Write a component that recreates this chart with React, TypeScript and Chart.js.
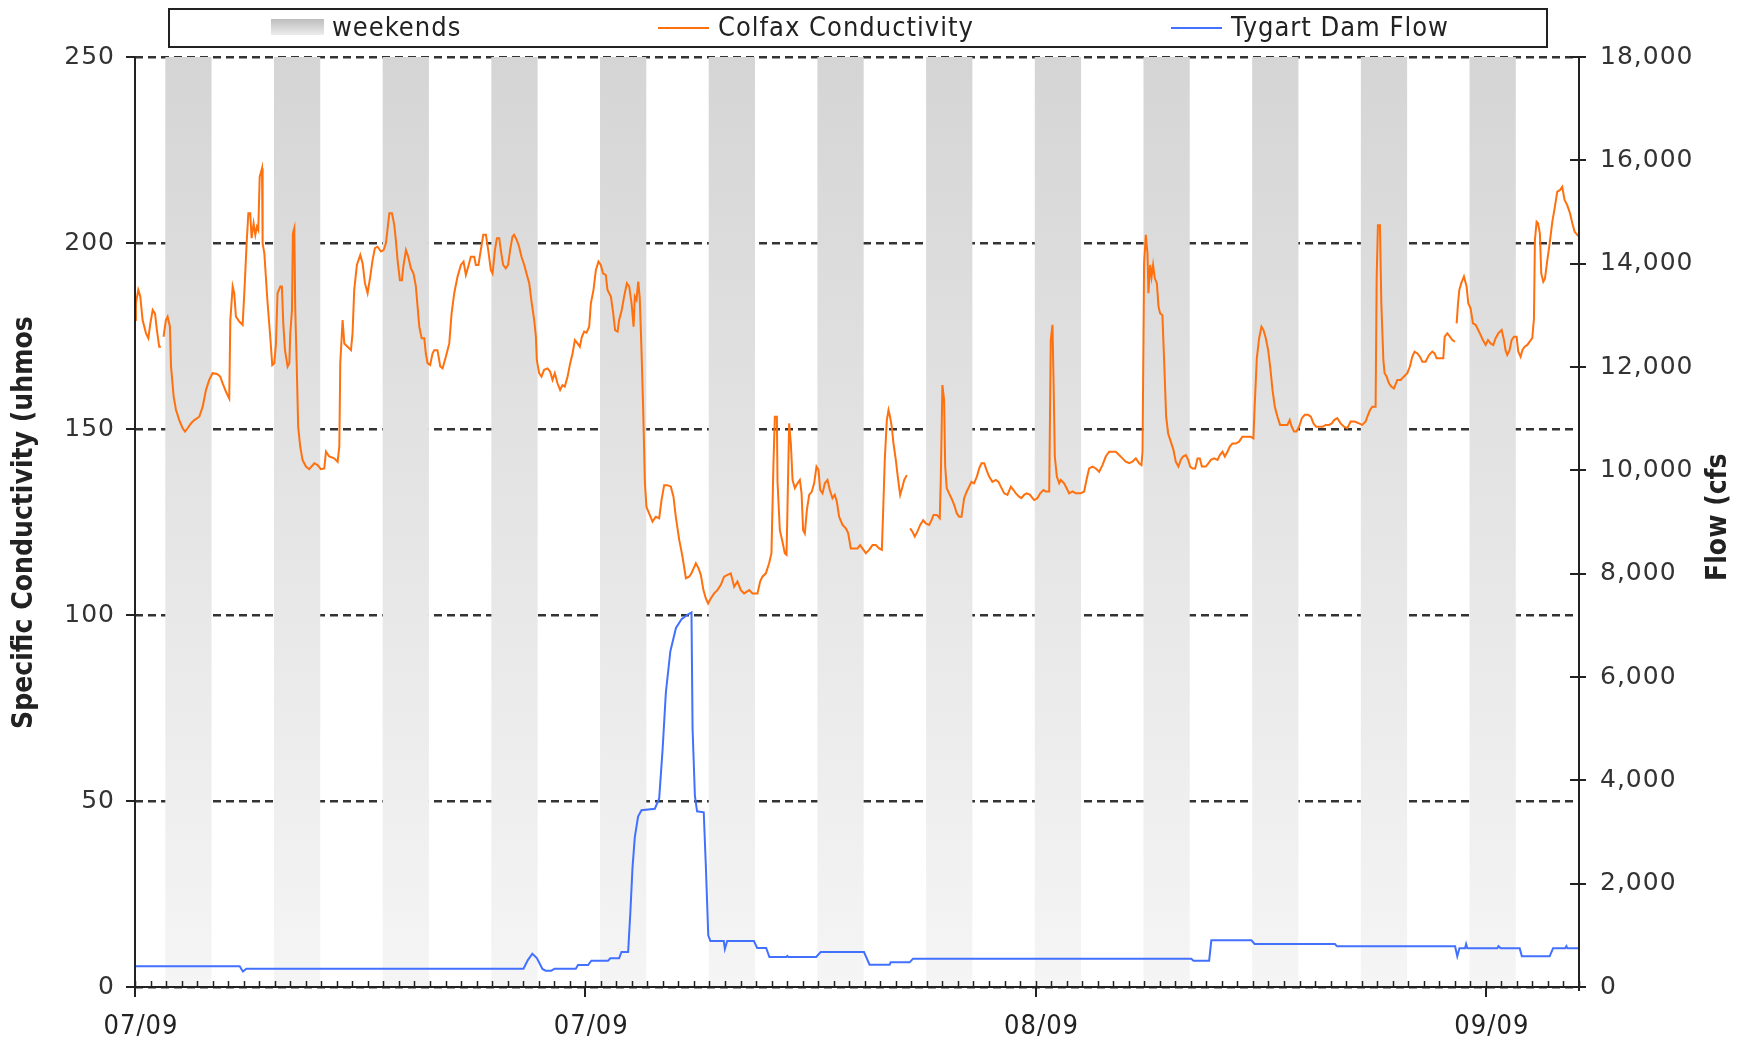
import React, { useEffect, useRef } from "react";
import { Chart, registerables } from "chart.js";

Chart.register(...registerables);

// Day offsets (from 1 Jul 2009) where the date axis is labelled, and their labels (MM/YY)
const xTickDays = [0, 29, 58, 87];
const xTickLabels = ["07/09", "07/09", "08/09", "09/09"];
const dayCount = 93;

// Weekend shading, as day offsets
const weekendStarts = [1.95, 8.95, 15.95, 22.95, 29.95, 36.95, 43.95, 50.95, 57.95, 64.95, 71.95, 78.95, 85.95];
const weekendEnds = [4.93, 11.93, 18.93, 25.93, 32.93, 39.93, 46.93, 53.93, 60.93, 67.93, 74.93, 81.93, 88.93];

// Colfax specific conductivity readings: [day offset, uhmos/cm] (null = no data)
const colfaxReadings: [number, number | null][] = [
  [0, 179.3], [0.06, 183.8], [0.21, 187.4], [0.34, 185.6], [0.49, 179.3], [0.71, 175.7], [0.86, 174.4], [0.99, 178.4], [1.14, 182.0], [1.29, 181.0],
  [1.41, 176.6], [1.56, 172.1], [1.67, 172.1], [1.75, null], [1.84, 174.8], [1.99, 179.3], [2.1, 180.2], [2.25, 177.5], [2.32, 166.8], [2.49, 158.7],
  [2.64, 155.1], [2.85, 152.4], [3.07, 150.2], [3.22, 149.3], [3.39, 150.2], [3.6, 151.5], [3.82, 152.4], [4.14, 153.3], [4.36, 156.0], [4.57, 160.5],
  [4.78, 163.2], [5.0, 165.0], [5.28, 164.8], [5.49, 164.1], [5.64, 162.3], [5.86, 160.0], [6.07, 158.2], [6.14, 179.3], [6.29, 188.3], [6.39, 186.5],
  [6.5, 180.2], [6.72, 178.9], [6.93, 178.0], [7.04, 186.5], [7.19, 199.9], [7.3, 208.0], [7.42, 208.0], [7.51, 201.3], [7.64, 205.3], [7.75, 202.2],
  [7.85, 204.4], [7.94, 203.5], [8.03, 217.8], [8.18, 220.1], [8.22, 199.9], [8.33, 197.2], [8.54, 183.8], [8.71, 174.8], [8.84, 167.2], [8.97, 167.7],
  [9.08, 173.0], [9.18, 186.5], [9.36, 188.3], [9.46, 188.3], [9.55, 178.4], [9.66, 171.2], [9.83, 166.8], [9.94, 167.7], [10.0, 175.7], [10.11, 182.0],
  [10.17, 202.6], [10.26, 204.0], [10.32, 182.4], [10.41, 168.1], [10.51, 150.6], [10.64, 145.3], [10.79, 141.7], [11.01, 139.9], [11.22, 139.2], [11.55, 140.8],
  [11.76, 140.3], [11.97, 139.2], [12.19, 139.4], [12.3, 143.9], [12.51, 142.6], [12.83, 142.1], [13.05, 141.2], [13.16, 145.3], [13.22, 167.7], [13.37, 179.3],
  [13.48, 173.0], [13.69, 172.1], [13.91, 171.2], [14.01, 175.7], [14.12, 187.4], [14.29, 194.1], [14.51, 196.8], [14.66, 194.5], [14.81, 189.2], [14.98, 186.5],
  [15.15, 190.9], [15.3, 195.4], [15.45, 198.6], [15.62, 199.0], [15.84, 197.7], [16.01, 198.1], [16.16, 199.9], [16.27, 203.9], [16.38, 208.0], [16.55, 208.0],
  [16.7, 204.8], [16.8, 200.8], [16.91, 195.4], [17.06, 190.0], [17.19, 190.0], [17.28, 193.6], [17.45, 198.1], [17.6, 196.3], [17.77, 193.2], [17.94, 191.8],
  [18.09, 188.3], [18.2, 182.9], [18.31, 177.5], [18.46, 174.4], [18.63, 174.4], [18.73, 170.3], [18.84, 167.7], [19.01, 167.2], [19.16, 170.3],
  [19.27, 171.2], [19.48, 171.2], [19.66, 166.8], [19.81, 166.3], [20.02, 169.4], [20.24, 173.0], [20.39, 181.1], [20.56, 186.5], [20.77, 190.9], [20.99, 194.1],
  [21.16, 195.0], [21.31, 191.4], [21.46, 193.6], [21.63, 196.3], [21.85, 196.3], [21.95, 194.1], [22.12, 194.1], [22.27, 198.1], [22.43, 202.2], [22.6, 202.2],
  [22.75, 198.1], [22.92, 192.7], [23.03, 191.8], [23.18, 198.1], [23.31, 201.3], [23.46, 201.3], [23.56, 198.1], [23.71, 194.1], [23.88, 193.2], [24.03, 194.1],
  [24.16, 198.1], [24.31, 201.7], [24.42, 202.2], [24.59, 200.8], [24.74, 199.0], [24.89, 196.3], [25.07, 194.1], [25.24, 191.4], [25.39, 189.2], [25.54, 184.2],
  [25.71, 179.3], [25.82, 174.8], [25.88, 168.5], [26.03, 165.0], [26.18, 164.1], [26.35, 165.9], [26.57, 166.3], [26.74, 165.4], [26.89, 163.2], [27.04, 165.0],
  [27.21, 162.3], [27.38, 160.5], [27.53, 161.8], [27.68, 161.4], [27.86, 164.1], [28.03, 167.7], [28.18, 170.3], [28.33, 173.9], [28.5, 173.0], [28.65, 172.1],
  [28.78, 174.8], [28.93, 176.2], [29.08, 175.9], [29.25, 177.5], [29.36, 183.8], [29.53, 187.4], [29.68, 192.7], [29.85, 195.0], [30.0, 194.1], [30.15, 191.8],
  [30.32, 191.4], [30.43, 187.4], [30.65, 185.6], [30.8, 181.1], [30.92, 176.6], [31.08, 176.2], [31.18, 179.3], [31.35, 182.0], [31.5, 185.6], [31.68, 189.2],
  [31.83, 188.3], [31.98, 183.8], [32.11, 177.5], [32.19, 185.6], [32.3, 184.7], [32.41, 189.6], [32.51, 185.1], [32.62, 171.2], [32.73, 155.1], [32.84, 135.4],
  [32.94, 129.1], [33.11, 127.3], [33.33, 125.1], [33.54, 126.4], [33.76, 126.0], [33.91, 130.9], [34.08, 134.9], [34.29, 134.9], [34.51, 134.5], [34.68, 131.8],
  [34.83, 126.4], [35.05, 120.2], [35.26, 115.7], [35.48, 109.9], [35.69, 110.3], [35.84, 111.2], [36.12, 113.9], [36.29, 112.6], [36.44, 110.8], [36.61, 106.7],
  [36.76, 104.5], [36.91, 103.1], [37.09, 104.5], [37.3, 105.8], [37.51, 106.7], [37.73, 108.1], [37.94, 110.3], [38.16, 110.8], [38.37, 111.2],
  [38.59, 107.6], [38.8, 109.0], [39.02, 106.7], [39.23, 105.8], [39.56, 106.7], [39.77, 105.8], [40.09, 105.8], [40.26, 109.0], [40.41, 110.3], [40.63, 111.2],
  [40.84, 113.9], [40.99, 116.6], [41.12, 140.8], [41.21, 153.3], [41.34, 153.3], [41.38, 135.8], [41.53, 122.8], [41.7, 119.7], [41.85, 116.6], [41.96, 116.2],
  [42.02, 128.2], [42.13, 151.5], [42.24, 146.1], [42.35, 136.3], [42.5, 134.1], [42.67, 135.4], [42.82, 136.3], [42.93, 132.7], [43.03, 122.8], [43.14, 121.9],
  [43.27, 128.2], [43.42, 132.3], [43.59, 133.2], [43.74, 135.4], [43.89, 139.9], [44.02, 139.0], [44.13, 133.6], [44.28, 132.7], [44.43, 135.4], [44.6, 136.3],
  [44.75, 133.6], [44.92, 131.4], [45.07, 132.3], [45.2, 130.5], [45.35, 126.4], [45.57, 124.2], [45.78, 123.3], [45.93, 122.0], [46.1, 117.9], [46.32, 117.9],
  [46.53, 117.9], [46.7, 118.8], [46.85, 117.9], [47.07, 116.6], [47.28, 117.5], [47.5, 118.8], [47.71, 118.8], [47.93, 117.9], [48.1, 117.5], [48.18, 127.3],
  [48.29, 141.7], [48.42, 152.4], [48.53, 155.1], [48.63, 153.3], [48.74, 150.6], [48.85, 146.1], [49.0, 141.7], [49.15, 136.3], [49.28, 132.3], [49.43, 134.5],
  [49.54, 136.3], [49.71, 137.6], [49.82, null], [49.92, 123.3], [50.07, 122.4], [50.22, 121.1], [50.39, 122.4], [50.57, 124.2], [50.76, 125.5], [50.93, 124.6],
  [51.15, 124.2], [51.3, 125.5], [51.43, 126.9], [51.64, 126.9], [51.83, 126.0], [51.9, 137.2], [52.0, 161.8], [52.11, 157.8], [52.18, 139.9], [52.28, 134.1],
  [52.43, 132.7], [52.58, 131.4], [52.76, 129.6], [52.93, 127.3], [53.08, 126.4], [53.23, 126.4], [53.4, 131.4], [53.57, 133.2], [53.72, 134.5], [53.87, 135.8],
  [54.04, 135.4], [54.22, 137.2], [54.37, 139.4], [54.52, 140.8], [54.69, 140.8], [54.84, 139.0], [55.01, 137.2], [55.22, 135.8], [55.44, 136.3], [55.61, 135.8],
  [55.76, 134.5], [55.98, 132.7], [56.19, 132.3], [56.41, 134.5], [56.58, 133.6], [56.73, 132.7], [56.94, 131.8], [57.09, 131.4], [57.26, 132.3], [57.43, 132.7],
  [57.65, 132.3], [57.8, 131.4],
  [57.91, 130.9], [58.12, 131.4], [58.3, 132.7], [58.51, 133.6], [58.66, 133.2], [58.88, 133.2], [58.98, 173.9], [59.09, 178.0], [59.15, 165.0], [59.24, 142.6],
  [59.37, 137.2], [59.52, 135.4], [59.63, 136.3], [59.84, 135.4], [60.06, 133.6], [60.16, 132.7], [60.38, 133.2], [60.59, 132.7], [60.91, 132.7], [61.13, 133.2],
  [61.3, 136.7], [61.45, 139.4], [61.67, 139.9], [61.88, 139.4], [62.1, 138.5], [62.31, 140.3], [62.52, 142.6], [62.74, 143.9], [62.95, 143.9], [63.17, 143.9],
  [63.38, 143.0], [63.6, 142.1], [63.81, 141.2], [64.03, 140.8], [64.24, 141.2], [64.46, 142.1], [64.67, 140.8], [64.82, 140.3], [64.89, 143.9], [64.99, 194.5],
  [65.1, 202.2], [65.21, 197.2], [65.27, 186.5], [65.38, 194.1], [65.47, 190.9], [65.57, 194.1], [65.68, 190.5], [65.81, 189.2], [65.92, 182.9], [66.02, 181.1],
  [66.17, 180.6], [66.28, 168.5], [66.41, 153.3], [66.54, 148.8], [66.71, 146.6], [66.88, 144.4], [67.03, 141.2], [67.2, 139.9], [67.35, 141.7], [67.5, 142.6],
  [67.68, 143.0], [67.83, 141.7], [67.96, 139.9], [68.11, 139.4], [68.28, 139.4], [68.43, 142.1], [68.58, 142.1], [68.71, 139.9], [68.96, 139.9], [69.14, 140.8],
  [69.29, 141.7], [69.5, 142.1], [69.72, 141.7], [69.87, 143.0], [70.04, 143.9], [70.19, 142.6], [70.36, 143.9], [70.51, 145.3], [70.68, 146.1], [70.9, 146.1],
  [71.11, 146.6], [71.32, 147.9], [71.58, 147.9], [71.86, 147.9], [72.03, 147.5], [72.12, 156.9], [72.25, 169.0], [72.4, 174.4], [72.55, 177.5], [72.68, 176.6],
  [72.83, 174.4], [72.98, 171.2], [73.11, 166.8], [73.26, 160.5], [73.41, 156.0], [73.58, 153.3], [73.75, 151.1], [73.96, 151.1], [74.22, 151.1], [74.37, 152.4],
  [74.5, 150.6], [74.65, 149.3], [74.8, 149.3], [74.97, 150.6], [75.15, 152.9], [75.34, 153.8], [75.55, 153.8], [75.73, 153.3], [75.9, 151.5], [76.07, 150.6],
  [76.26, 150.6], [76.48, 150.6], [76.69, 151.1], [76.91, 151.1], [77.08, 151.5], [77.23, 152.4],
  [77.43, 152.9], [77.65, 151.5], [77.86, 150.6], [78.08, 150.2], [78.29, 152.0], [78.55, 152.0], [78.83, 151.5], [79.04, 151.1], [79.26, 152.0], [79.37, 153.3],
  [79.54, 155.1], [79.69, 156.0], [79.9, 156.0], [79.97, 191.0], [80.05, 204.8], [80.18, 204.8], [80.27, 183.8], [80.4, 168.5], [80.48, 165.0], [80.61, 164.1],
  [80.76, 162.3], [80.91, 161.4], [81.08, 160.9], [81.3, 163.2], [81.51, 163.2], [81.73, 164.1], [81.94, 165.0], [82.11, 166.8], [82.26, 169.4], [82.41, 170.8],
  [82.59, 170.3], [82.76, 169.4], [82.91, 168.1], [83.12, 168.1], [83.34, 169.9], [83.55, 170.8], [83.7, 170.3], [83.83, 169.0], [84.05, 169.0], [84.26, 169.0],
  [84.35, 174.8], [84.52, 175.7], [84.69, 174.8], [84.84, 173.9], [85.01, 173.5], [85.06, null], [85.12, 178.4], [85.2, 183.3], [85.29, 187.4], [85.42, 189.2],
  [85.59, 191.0], [85.76, 188.3], [85.87, 183.8], [86.02, 182.4], [86.17, 178.4], [86.34, 178.0], [86.51, 176.6], [86.66, 175.3], [86.81, 173.9], [86.99, 172.6],
  [87.14, 173.9], [87.31, 173.0], [87.48, 172.6], [87.63, 174.4], [87.8, 175.7], [88.02, 176.6], [88.17, 173.9], [88.27, 171.2], [88.38, 169.9], [88.53, 171.2],
  [88.66, 173.9], [88.81, 174.8], [88.98, 174.8], [89.09, 170.8], [89.24, 169.4], [89.35, 171.2], [89.5, 172.1], [89.67, 172.6], [89.82, 173.5], [89.99, 174.4],
  [90.1, 179.7], [90.16, 200.8], [90.27, 205.7], [90.36, 205.3], [90.48, 202.6], [90.57, 191.8], [90.7, 189.6], [90.81, 190.5], [90.96, 195.4], [91.11, 199.9],
  [91.28, 205.7], [91.43, 209.3], [91.6, 213.8], [91.77, 214.2], [91.92, 215.1], [92.07, 211.6], [92.24, 210.2], [92.42, 208.0], [92.57, 205.3], [92.72, 203.0],
  [92.89, 202.2], [93.0, 201.7],
];

// Tygart Dam outflow: [day offset, cfs]
const tygartFlow: [number, number][] = [
  [0, 400], [6.74, 400], [6.95, 300], [7.17, 355], [25.02, 355], [25.3, 520], [25.59, 645], [25.88, 560], [26.24, 350], [26.45, 316],
  [26.81, 316], [27.03, 355], [28.39, 355], [28.53, 426], [29.18, 426], [29.39, 510], [30.47, 510], [30.61, 555], [31.18, 555], [31.33, 677],
  [31.76, 677], [31.9, 1430], [32.04, 2300], [32.19, 2900], [32.4, 3300], [32.62, 3420], [33.48, 3450], [33.76, 3650], [33.98, 4600], [34.19, 5700],
  [34.48, 6500], [34.84, 6950], [35.2, 7120], [35.56, 7200], [35.84, 7250], [35.91, 5000], [36.06, 3700], [36.2, 3400], [36.63, 3380], [36.77, 2300],
  [36.92, 1000], [37.06, 890], [37.92, 890], [37.99, 735], [38.14, 890], [39.86, 890], [40.07, 755], [40.65, 755], [40.86, 580], [41.94, 580],
  [42.01, 600], [42.08, 580], [43.87, 580], [44.16, 677], [46.95, 677], [47.31, 432], [48.6, 432], [48.67, 477], [49.89, 477], [50.11, 548],
  [68.03, 548], [68.17, 510], [69.18, 510], [69.32, 903], [71.9, 903], [72.11, 832], [77.28, 832], [77.42, 787], [85.02, 787], [85.16, 594],
  [85.3, 748], [85.66, 748], [85.73, 830], [85.81, 748], [87.74, 748], [87.81, 790], [87.96, 748], [89.18, 748], [89.32, 594], [91.11, 594],
  [91.33, 748], [92.11, 748], [92.19, 790], [92.26, 748], [93.0, 748],
];

const leftTitle = "Specific Conductivity (uhmos";
const rightTitle = "Flow (cfs)";
const seriesNames = ["weekends", "Colfax Conductivity", "Tygart Dam Flow"];

const ORANGE = "#ff700e";
const BLUE = "#4270ff";
const INK = "#222222";
const TICK_FONT = "'DejaVu Sans', Verdana, sans-serif";
const NARROW_FONT = "'DejaVu Sans Condensed', 'DejaVu Sans', sans-serif";
const SPACING = "1px";

const decorPlugin = {
  id: "decor",
  beforeLayout(chart: any) {
    chart.ctx.letterSpacing = SPACING;
  },
  beforeDraw(chart: any) {
    chart.ctx.letterSpacing = SPACING;
  },
  beforeDatasetsDraw(chart: any) {
    const { ctx, chartArea: a, scales } = chart;
    const x = scales.x;
    const g = ctx.createLinearGradient(0, a.top, 0, a.bottom);
    g.addColorStop(0, "#d5d5d5");
    g.addColorStop(1, "#f5f5f5");
    ctx.save();
    ctx.fillStyle = g;
    weekendStarts.forEach((s, i) => {
      const x0 = x.getPixelForValue(s);
      const x1 = x.getPixelForValue(weekendEnds[i]);
      ctx.fillRect(x0, a.top, x1 - x0, a.bottom - a.top);
    });
    ctx.restore();
  },
  afterDatasetsDraw(chart: any) {
    const { ctx, chartArea: a, scales } = chart;
    const { x, y, y2 } = scales;
    ctx.save();
    ctx.strokeStyle = INK;
    ctx.lineWidth = 2;
    ctx.beginPath();
    // axis lines
    ctx.moveTo(a.left, a.top);
    ctx.lineTo(a.left, a.bottom + 4);
    ctx.moveTo(a.right, a.top);
    ctx.lineTo(a.right, a.bottom + 4);
    ctx.moveTo(a.left, a.bottom);
    ctx.lineTo(a.right, a.bottom);
    // left ticks
    y.ticks.forEach((t: any) => {
      const py = Math.round(y.getPixelForValue(t.value));
      ctx.moveTo(a.left - 9, py);
      ctx.lineTo(a.left, py);
    });
    // right ticks, crossing the axis
    y2.ticks.forEach((t: any) => {
      const py = Math.round(y2.getPixelForValue(t.value));
      ctx.moveTo(a.right - 9, py);
      ctx.lineTo(a.right + 7, py);
    });
    ctx.stroke();
    // daily minor ticks
    ctx.lineWidth = 1.5;
    ctx.beginPath();
    for (let d = 0; d <= dayCount; d++) {
      const px = Math.round(x.getPixelForValue(d)) + 0.5;
      ctx.moveTo(px, a.bottom);
      ctx.lineTo(px, a.bottom - 6);
    }
    ctx.stroke();
    // labelled major ticks
    ctx.lineWidth = 2;
    ctx.beginPath();
    xTickDays.forEach((d) => {
      const px = Math.round(x.getPixelForValue(d));
      ctx.moveTo(px, a.bottom);
      ctx.lineTo(px, a.bottom + 10);
    });
    ctx.stroke();
    ctx.restore();
  },
  afterDraw(chart: any) {
    const { ctx } = chart;
    ctx.save();
    ctx.letterSpacing = SPACING;
    // legend box
    ctx.fillStyle = "#ffffff";
    ctx.fillRect(169, 9, 1378, 38);
    ctx.strokeStyle = INK;
    ctx.lineWidth = 2;
    ctx.strokeRect(169, 9, 1378, 38);
    const sw = ctx.createLinearGradient(0, 19, 0, 35);
    sw.addColorStop(0, "#bdbdbd");
    sw.addColorStop(1, "#ececec");
    ctx.fillStyle = sw;
    ctx.fillRect(271, 19, 53, 16);
    ctx.lineWidth = 2;
    ctx.strokeStyle = ORANGE;
    ctx.beginPath();
    ctx.moveTo(658, 28);
    ctx.lineTo(709, 28);
    ctx.stroke();
    ctx.strokeStyle = BLUE;
    ctx.beginPath();
    ctx.moveTo(1171, 28);
    ctx.lineTo(1222, 28);
    ctx.stroke();
    ctx.fillStyle = INK;
    ctx.font = `27px ${NARROW_FONT}`;
    ctx.textBaseline = "middle";
    ctx.textAlign = "left";
    ctx.fillText(seriesNames[0], 332, 29);
    ctx.fillText(seriesNames[1], 718, 29);
    ctx.fillText(seriesNames[2], 1231, 29);
    // axis titles
    ctx.letterSpacing = "0px";
    ctx.font = `bold 28px ${NARROW_FONT}`;
    ctx.save();
    ctx.translate(25, 729);
    ctx.rotate(-Math.PI / 2);
    ctx.fillText(leftTitle, 0, 0);
    ctx.restore();
    ctx.save();
    ctx.beginPath();
    ctx.rect(1680, 453, 66, 600);
    ctx.clip();
    ctx.translate(1719, 581);
    ctx.rotate(-Math.PI / 2);
    ctx.fillText(rightTitle, 0, 0);
    ctx.restore();
    ctx.restore();
  },
};

export default function App() {
  const canvasRef = useRef<HTMLCanvasElement | null>(null);

  useEffect(() => {
    const canvas = canvasRef.current;
    if (!canvas) return;
    const chart = new Chart(canvas, {
      type: "line",
      data: {
        datasets: [
          {
            label: seriesNames[2],
            data: tygartFlow.map(([d, v]) => ({ x: d, y: v })),
            yAxisID: "y2",
            borderColor: BLUE,
            borderWidth: 2,
            pointRadius: 0,
            tension: 0,
          },
          {
            label: seriesNames[1],
            data: colfaxReadings.map(([d, v]) => ({ x: d, y: v })),
            yAxisID: "y",
            borderColor: ORANGE,
            borderWidth: 2,
            pointRadius: 0,
            tension: 0,
            spanGaps: false,
          },
        ],
      },
      options: {
        responsive: false,
        animation: false,
        events: [],
        layout: { padding: { top: 57, left: 0, right: 0, bottom: 0 } },
        plugins: { legend: { display: false }, tooltip: { enabled: false } },
        scales: {
          x: {
            type: "linear",
            min: 0,
            max: dayCount,
            grid: { display: false, drawTicks: false },
            border: { display: false },
            afterBuildTicks: (scale: any) => {
              scale.ticks = xTickDays.map((v) => ({ value: v }));
            },
            afterFit: (scale: any) => {
              scale.height = 53;
            },
            ticks: {
              autoSkip: false,
              maxRotation: 0,
              padding: 24,
              labelOffset: 6,
              color: INK,
              font: { family: NARROW_FONT, size: 27 },
              callback: (_v: any, i: number) => xTickLabels[i],
            },
          },
          y: {
            position: "left",
            min: 0,
            max: 250,
            grid: { color: "#333333", lineWidth: 2.5, drawTicks: false },
            border: { display: false, dash: [8, 5] },
            afterFit: (scale: any) => {
              scale.width = 135;
            },
            ticks: {
              stepSize: 50,
              padding: 20,
              color: "#333333",
              font: { family: TICK_FONT, size: 25 },
            },
          },
          y2: {
            position: "right",
            min: 0,
            max: 18000,
            grid: { drawOnChartArea: false, drawTicks: false },
            border: { display: false },
            afterFit: (scale: any) => {
              scale.width = 167;
            },
            ticks: {
              stepSize: 2000,
              padding: 21,
              color: "#333333",
              font: { family: TICK_FONT, size: 25 },
              callback: (v: any) => Number(v).toLocaleString("en-US"),
            },
          },
        },
      },
      plugins: [decorPlugin],
    });
    return () => chart.destroy();
  }, []);

  return (
    <div style={{ position: "absolute", left: 0, top: 0, width: 1746, height: 1040, background: "#fff" }}>
      <canvas ref={canvasRef} width={1746} height={1040} style={{ display: "block" }} />
    </div>
  );
}
